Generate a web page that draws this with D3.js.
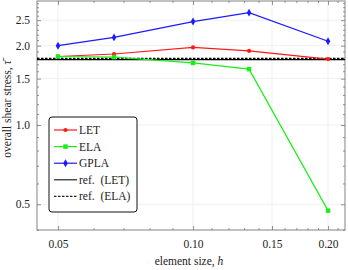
<!DOCTYPE html>
<html>
<head>
<meta charset="utf-8">
<script src="https://cdn.jsdelivr.net/npm/d3@7"></script>
<style>
  body { margin: 0; background: #fff; }
  svg text { font-family: "Liberation Serif", "Times New Roman", serif !important; fill: #222; }
</style>
</head>
<body>
<div id="chart"></div>
<script>
// element sizes h
let hValues = [1 / 20, 1 / 15, 1 / 10, 2 / 15, 1 / 5];
// overall shear stress per method
let letValues = [1.82, 1.86, 1.97, 1.91, 1.78];
let elaValues = [1.82, 1.81, 1.72, 1.63, 0.473];
let gplaValues = [2.0, 2.15, 2.47, 2.67, 2.08];
// reference levels
let refLET = 1.77;
let refELA = 1.79;
// tick labels
let xTicks = [0.05, 0.10, 0.15, 0.20];
let xMinor = [0.06, 0.07, 0.08, 0.09, 0.11, 0.12, 0.13, 0.14, 0.16, 0.17, 0.18, 0.19, 0.21];
let yTicks = [0.5, 1.0, 1.5, 2.0, 2.5];
let yMinor = [0.4, 0.6, 0.7, 0.8, 0.9, 1.1, 1.2, 1.3, 1.4, 1.6, 1.7, 1.8, 1.9, 2.1, 2.2, 2.3, 2.4, 2.6, 2.7, 2.8, 2.9];

let svgWidth = 348;
let svgHeight = 270;

let margin = { top: 1, right: 3, bottom: 40, left: 37 };
let width = svgWidth - margin.left - margin.right;
let height = svgHeight - margin.top - margin.bottom;

let svg = d3.select("#chart")
    .append("svg")
    .attr("width", svgWidth)
    .attr("height", svgHeight);

let g = svg.append("g")
    .attr("transform", `translate(${margin.left}, ${margin.top})`);

let x = d3.scaleLog().domain([0.04489, 0.2182]).range([0, width]);
let y = d3.scaleLog().domain([0.3994, 2.956]).range([height, 0]);

// grid lines
g.append("g").selectAll("line")
    .data(xTicks)
    .join("line")
    .attr("x1", d => x(d)).attr("x2", d => x(d))
    .attr("y1", 0).attr("y2", height)
    .attr("stroke", "#ebebeb").attr("stroke-width", 0.8);

g.append("g").selectAll("line")
    .data(yTicks)
    .join("line")
    .attr("y1", d => y(d)).attr("y2", d => y(d))
    .attr("x1", 0).attr("x2", width)
    .attr("stroke", "#ebebeb").attr("stroke-width", 0.8);

// axes with inward ticks on all four sides
function styleAxis(sel) {
    sel.attr("font-family", null);
    sel.select(".domain").remove();
    sel.selectAll("line").attr("stroke", "#777").attr("stroke-width", 0.8);
    sel.selectAll("text").style("font-size", "11.5px").attr("fill", "#222");
}

g.append("g").attr("transform", `translate(0, ${height})`)
    .call(d3.axisBottom(x).tickValues(xTicks).tickSize(-4).tickPadding(10).tickFormat(d3.format(".2f")))
    .call(styleAxis);
g.append("g").attr("transform", `translate(0, ${height})`)
    .call(d3.axisBottom(x).tickValues(xMinor).tickSize(-2).tickFormat(""))
    .call(styleAxis);
g.append("g")
    .call(d3.axisTop(x).tickValues(xTicks).tickSize(-4).tickFormat(""))
    .call(styleAxis);
g.append("g")
    .call(d3.axisTop(x).tickValues(xMinor).tickSize(-2).tickFormat(""))
    .call(styleAxis);

g.append("g")
    .call(d3.axisLeft(y).tickValues(yTicks).tickSize(-4).tickPadding(7).tickFormat(d3.format(".1f")))
    .call(styleAxis);
g.append("g")
    .call(d3.axisLeft(y).tickValues(yMinor).tickSize(-2).tickFormat(""))
    .call(styleAxis);
g.append("g").attr("transform", `translate(${width}, 0)`)
    .call(d3.axisRight(y).tickValues(yTicks).tickSize(-4).tickFormat(""))
    .call(styleAxis);
g.append("g").attr("transform", `translate(${width}, 0)`)
    .call(d3.axisRight(y).tickValues(yMinor).tickSize(-2).tickFormat(""))
    .call(styleAxis);

// frame
g.append("rect")
    .attr("width", width).attr("height", height)
    .attr("fill", "none").attr("stroke", "#777").attr("stroke-width", 0.9);

// reference lines
g.append("line")
    .attr("x1", 0).attr("x2", width)
    .attr("y1", y(refLET)).attr("y2", y(refLET))
    .attr("stroke", "#000").attr("stroke-width", 1.3);
g.append("line")
    .attr("x1", 0).attr("x2", width)
    .attr("y1", y(refELA)).attr("y2", y(refELA))
    .attr("stroke", "#000").attr("stroke-width", 1.1)
    .attr("stroke-dasharray", "2.5,1.5");

let series = [
    { name: "LET", values: letValues, color: "#ff1a1a", symbol: d3.symbolCircle, size: 14 },
    { name: "ELA", values: elaValues, color: "#1aee1a", symbol: d3.symbolSquare, size: 20 },
    { name: "GPLA", values: gplaValues, color: "#1a1aff", symbol: d3.symbolDiamond, size: 18 }
];

let line = d3.line().x(d => x(d.h)).y(d => y(d.v));

series.forEach(s => {
    let pts = hValues.map((h, i) => ({ h: h, v: s.values[i] }));
    g.append("path")
        .datum(pts)
        .attr("d", line)
        .attr("fill", "none")
        .attr("stroke", s.color)
        .attr("stroke-width", 1.2);
    g.selectAll(null)
        .data(pts)
        .join("path")
        .attr("transform", d => `translate(${x(d.h)}, ${y(d.v)})`)
        .attr("d", d3.symbol().type(s.symbol).size(s.size))
        .attr("fill", s.color);
});

// legend
let legend = svg.append("g").attr("transform", "translate(49, 117)");
legend.append("rect")
    .attr("width", 88).attr("height", 95)
    .attr("rx", 3).attr("ry", 3)
    .attr("fill", "#fff").attr("stroke", "#111").attr("stroke-width", 1);

let legendItems = [
    { label: "LET", color: "#ff1a1a", symbol: d3.symbolCircle, size: 14, dash: null },
    { label: "ELA", color: "#1aee1a", symbol: d3.symbolSquare, size: 20, dash: null },
    { label: "GPLA", color: "#1a1aff", symbol: d3.symbolDiamond, size: 18, dash: null },
    { label: "ref.  (LET)", color: "#222", symbol: null, dash: null },
    { label: "ref.  (ELA)", color: "#222", symbol: null, dash: "2.5,1.5" }
];

legendItems.forEach((item, i) => {
    let yy = 13 + i * 16.6;
    legend.append("line")
        .attr("x1", 5).attr("x2", 28)
        .attr("y1", yy).attr("y2", yy)
        .attr("stroke", item.color).attr("stroke-width", 1.2)
        .attr("stroke-dasharray", item.dash);
    if (item.symbol) {
        legend.append("path")
            .attr("transform", `translate(16.5, ${yy})`)
            .attr("d", d3.symbol().type(item.symbol).size(item.size))
            .attr("fill", item.color);
    }
    legend.append("text")
        .attr("x", 30).attr("y", yy + 4)
        .style("font-size", "11.5px")
        .style("white-space", "pre")
        .text(item.label);
});

// axis labels
let xLabel = svg.append("text")
    .attr("x", margin.left + 152)
    .attr("y", 265)
    .attr("text-anchor", "middle")
    .style("font-size", "11.5px");
xLabel.append("tspan").text("element size, ");
xLabel.append("tspan").style("font-style", "italic").text("h");

let yLabel = svg.append("text")
    .attr("transform", "translate(11, 109) rotate(-90)")
    .attr("text-anchor", "middle")
    .style("font-size", "11.5px");
yLabel.append("tspan").text("overall shear stress, ");
yLabel.append("tspan").style("font-style", "italic").text("\u03C4\u0304");
</script>
</body>
</html>
